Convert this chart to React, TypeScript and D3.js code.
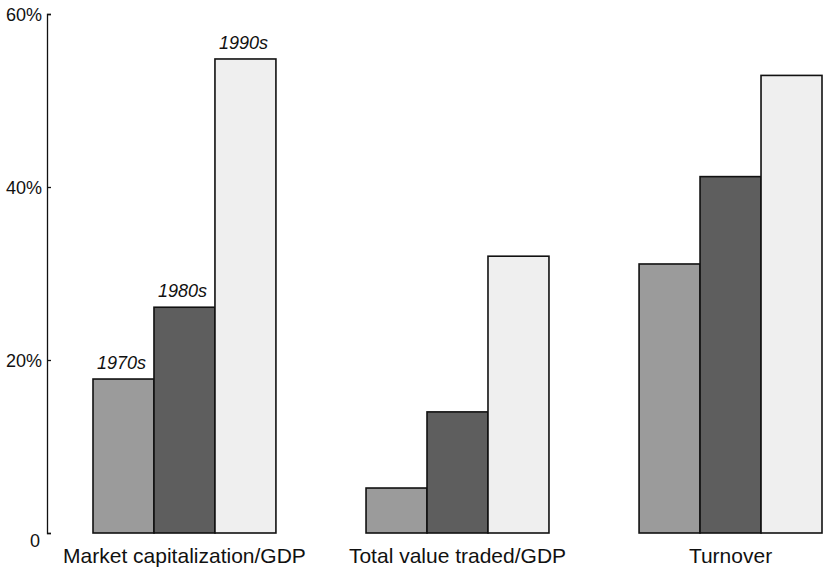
import React, { useEffect, useRef } from "react";
import * as d3 from "d3";

// categories along the x axis
const categories = ["Market capitalization/GDP", "Total value traded/GDP", "Turnover"];
// decades (series)
const decades = ["1970s", "1980s", "1990s"];
// values in percent, one array per decade, in category order
const values1970s = [17.8, 5.2, 31.1];
const values1980s = [26.1, 14.0, 41.2];
const values1990s = [54.8, 32.0, 52.9];
const yTicks = [0, 20, 40, 60];
const fills = ["#9b9b9b", "#5e5e5e", "#efefef"];

const FONT = "'Liberation Sans', Arial, Helvetica, sans-serif";

const App = () => {
  const svgRef = useRef<SVGSVGElement>(null);

  useEffect(() => {
    const width = 824;
    const height = 571;
    const axisX = 47;

    const svg = d3.select(svgRef.current);
    svg.selectAll("*").remove();

    const series = [values1970s, values1980s, values1990s];

    // y scale: 0 at the baseline, 60% at the top of the axis
    const y = d3.scaleLinear().domain([0, 60]).range([533, 14]);

    // groups and bars inside each group
    const x0 = d3
      .scaleBand()
      .domain(categories)
      .range([93, 822])
      .paddingInner(0.33)
      .paddingOuter(0);
    const x1 = d3.scaleBand().domain(decades).range([0, x0.bandwidth()]).padding(0);

    // axis on the left, ticks pointing inwards
    const yAxis = d3
      .axisLeft(y)
      .tickValues(yTicks)
      .tickSizeInner(-4)
      .tickSizeOuter(-4)
      .tickPadding(5)
      .tickFormat((d) => (d === 0 ? "0" : `${d}%`));

    const axisG = svg
      .append("g")
      .attr("transform", `translate(${axisX},0)`)
      .call(yAxis);
    axisG.select(".domain").attr("stroke", "#111").attr("stroke-width", 1.3);
    axisG.selectAll(".tick line").attr("stroke", "#111").attr("stroke-width", 1.3);
    axisG
      .selectAll(".tick text")
      .attr("font-family", FONT)
      .attr("font-size", 18)
      .attr("fill", "#111")
      .attr("dy", (d) => (d === 0 ? "0.75em" : "0.35em"))
      .attr("dx", (d) => (d === 0 ? -2 : 0));

    // bars
    const groups = svg
      .selectAll("g.group")
      .data(categories)
      .enter()
      .append("g")
      .attr("class", "group")
      .attr("transform", (c) => `translate(${x0(c)},0)`);

    groups
      .selectAll("rect")
      .data((c, ci) => decades.map((dec, di) => ({ dec, di, value: series[di][ci] })))
      .enter()
      .append("rect")
      .attr("x", (d) => x1(d.dec)!)
      .attr("y", (d) => y(d.value))
      .attr("width", x1.bandwidth())
      .attr("height", (d) => y(0) - y(d.value))
      .attr("fill", (d) => fills[d.di])
      .attr("stroke", "#111")
      .attr("stroke-width", 1.6);

    // decade labels above the first group only
    svg
      .selectAll("text.decade")
      .data(decades)
      .enter()
      .append("text")
      .attr("class", "decade")
      .attr("x", (d) => x0(categories[0])! + x1(d)! + x1.bandwidth() / 2 - 2)
      .attr("y", (d, i) => y(series[i][0]) - 10)
      .attr("text-anchor", "middle")
      .attr("font-family", FONT)
      .attr("font-style", "italic")
      .attr("font-size", 18)
      .attr("fill", "#111")
      .text((d) => d);

    // category labels under the groups
    svg
      .selectAll("text.category")
      .data(categories)
      .enter()
      .append("text")
      .attr("class", "category")
      .attr("x", (c) => x0(c)! + x0.bandwidth() / 2)
      .attr("y", 563)
      .attr("text-anchor", "middle")
      .attr("font-family", FONT)
      .attr("font-size", 21)
      .attr("fill", "#111")
      .text((c) => c);

    svg.attr("width", width).attr("height", height);
  }, []);

  return (
    <svg
      ref={svgRef}
      width={824}
      height={571}
      style={{ position: "absolute", left: 0, top: 0, background: "#fff" }}
    />
  );
};

export default App;
